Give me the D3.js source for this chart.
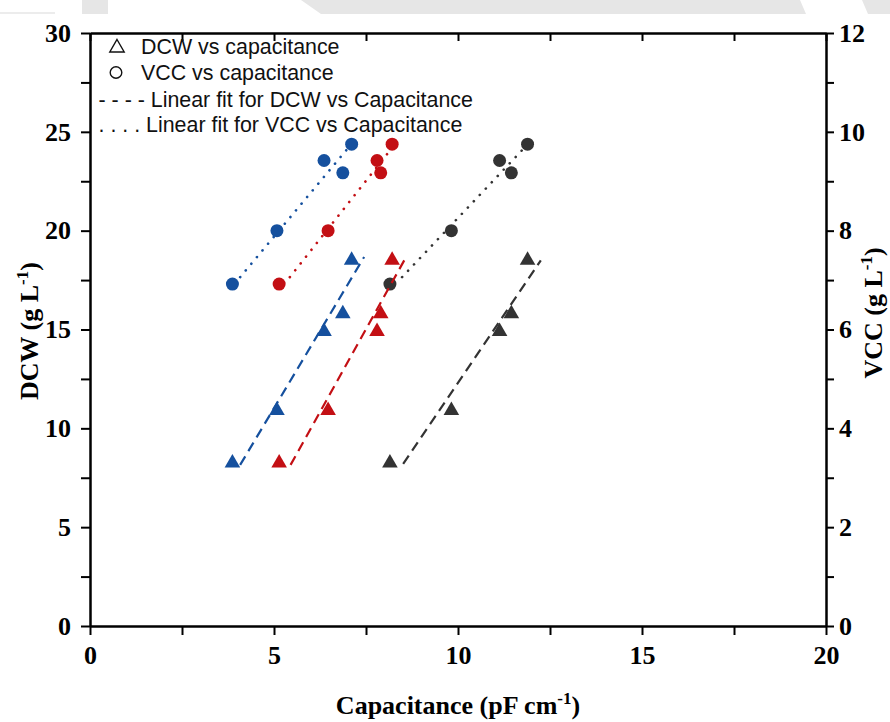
<!DOCTYPE html>
<html>
<head>
<meta charset="utf-8">
<script src="https://cdn.jsdelivr.net/npm/d3@7"></script>
<style>
  html, body { margin: 0; padding: 0; background: #ffffff; }
  svg { display: block; }
</style>
</head>
<body>
<svg id="chart" width="890" height="722"></svg>
<script>
// ---------------- data ----------------
const dcwValues = [8.35, 11.0, 15.0, 15.9, 18.6];        // g L-1 (left axis)
const vccValues = [6.92, 8.0, 9.42, 9.17, 9.75];         // g L-1 (right axis)
const capBlue  = [3.87, 5.08, 6.36, 6.87, 7.11];         // pF cm-1
const capRed   = [5.14, 6.47, 7.80, 7.90, 8.21];
const capBlack = [8.15, 9.82, 11.13, 11.45, 11.89];

// linear fit segments (endpoints)
const dcwFitBlueX  = [4.08, 7.45],  dcwFitBlueY  = [8.15, 18.67];
const dcwFitRedX   = [5.45, 8.59],  dcwFitRedY   = [8.15, 18.67];
const dcwFitBlackX = [8.51, 12.25], dcwFitBlackY = [8.2, 18.5];
const vccFitBlueX  = [4.08, 7.01],  vccFitBlueY  = [7.06, 9.67];
const vccFitRedX   = [5.43, 8.18],  vccFitRedY   = [7.06, 9.65];
const vccFitBlackX = [8.48, 11.82], vccFitBlackY = [7.06, 9.69];

const xTicks = [0, 2.5, 5, 7.5, 10, 12.5, 15, 17.5, 20];
const yLeftTicks = [0, 2.5, 5, 7.5, 10, 12.5, 15, 17.5, 20, 22.5, 25, 27.5, 30];
const yRightTicks = [0, 1, 2, 3, 4, 5, 6, 7, 8, 9, 10, 11, 12];

const legendLabels = [
  "DCW vs capacitance",
  "VCC vs capacitance",
  "- - - - Linear fit for DCW vs Capacitance",
  ". . . . Linear fit for VCC vs Capacitance"
];

const colors = { blue: "#15509e", red: "#c30f14", black: "#333333" };

// ---------------- drawing ----------------
const svg = d3.select("#chart");
const pLeft = 90, pRight = 826, pTop = 33, pBottom = 626;

const x = d3.scaleLinear().domain([0, 20]).range([pLeft, pRight]);
const yL = d3.scaleLinear().domain([0, 30]).range([pBottom, pTop]);
const yR = d3.scaleLinear().domain([0, 12]).range([pBottom, pTop]);

// light grey strip at top of the page (scan artefact)
const strip = svg.append("g").attr("fill", "#e6e6e6");
strip.append("rect").attr("x", 82).attr("y", 0).attr("width", 26).attr("height", 14);
strip.append("path").attr("d", "M301,0 L800,0 L806,14 L321,14 Z");
strip.append("path").attr("d", "M862,0 L890,0 L890,14 L868,14 Z");
strip.append("rect").attr("x", 0).attr("y", 12).attr("width", 55).attr("height", 2).attr("fill", "#ececec");

const serif = "'Liberation Serif', 'Times New Roman', serif";
const sans = "'Liberation Sans', Arial, sans-serif";

function styleAxis(g) {
  g.select(".domain").attr("stroke", "#000").attr("stroke-width", 2.5);
  g.selectAll(".tick line").attr("stroke", "#000").attr("stroke-width", 2);
  g.selectAll(".tick text")
    .attr("fill", "#000")
    .style("font-family", serif)
    .style("font-weight", "bold")
    .style("font-size", "26px");
}

const fmt5 = d => (d % 5 === 0 ? d3.format("d")(d) : "");
const fmt2 = d => (d % 2 === 0 ? d3.format("d")(d) : "");

svg.append("g").attr("transform", `translate(0,${pBottom})`)
  .call(d3.axisBottom(x).tickValues(xTicks).tickFormat(fmt5).tickSize(9).tickSizeOuter(0).tickPadding(11))
  .call(styleAxis);

svg.append("g").attr("transform", `translate(0,${pTop})`)
  .call(d3.axisTop(x).tickValues(xTicks).tickFormat("").tickSize(-8).tickSizeOuter(0))
  .call(styleAxis);

svg.append("g").attr("transform", `translate(${pLeft},0)`)
  .call(d3.axisLeft(yL).tickValues(yLeftTicks).tickFormat(fmt5).tickSize(9).tickSizeOuter(0).tickPadding(10))
  .call(styleAxis);

svg.append("g").attr("transform", `translate(${pRight},0)`)
  .call(d3.axisRight(yR).tickValues(yRightTicks).tickFormat(fmt2).tickSize(8).tickSizeOuter(0).tickPadding(5))
  .call(styleAxis);

// axis titles
function titleWithSup(g, main, sup, close) {
  const t = g.append("text")
    .attr("text-anchor", "middle")
    .attr("fill", "#000")
    .style("font-family", serif)
    .style("font-weight", "bold")
    .style("font-size", "26px");
  t.append("tspan").text(main);
  t.append("tspan").text(sup).attr("dy", -10).style("font-size", "17px");
  t.append("tspan").text(close).attr("dy", 10);
  return t;
}
titleWithSup(svg.append("g").attr("transform", "translate(458,714)"), "Capacitance (pF cm", "-1", ")");
titleWithSup(svg.append("g").attr("transform", "translate(38,331) rotate(-90)"), "DCW (g L", "-1", ")");
titleWithSup(svg.append("g").attr("transform", "translate(882,313) rotate(-90)"), "VCC (g L", "-1", ")");

// markers
const series = [
  { cap: capBlue, color: colors.blue },
  { cap: capRed, color: colors.red },
  { cap: capBlack, color: colors.black }
];
const tri = "M0,-7 L7.8,6.5 L-7.8,6.5 Z";

series.forEach(s => {
  const g = svg.append("g");
  g.selectAll("path.tri").data(s.cap.map((c, i) => [c, dcwValues[i]]))
    .join("path").attr("class", "tri")
    .attr("d", tri)
    .attr("transform", d => `translate(${x(d[0])},${yL(d[1])})`)
    .attr("fill", s.color);
  g.selectAll("circle").data(s.cap.map((c, i) => [c, vccValues[i]]))
    .join("circle")
    .attr("cx", d => x(d[0])).attr("cy", d => yR(d[1])).attr("r", 6.5)
    .attr("fill", s.color);
});

// fit lines
const fits = [
  { xs: dcwFitBlueX, ys: dcwFitBlueY, sc: yL, color: colors.blue, dash: true },
  { xs: dcwFitRedX, ys: dcwFitRedY, sc: yL, color: colors.red, dash: true },
  { xs: dcwFitBlackX, ys: dcwFitBlackY, sc: yL, color: colors.black, dash: true },
  { xs: vccFitBlueX, ys: vccFitBlueY, sc: yR, color: colors.blue, dash: false },
  { xs: vccFitRedX, ys: vccFitRedY, sc: yR, color: colors.red, dash: false },
  { xs: vccFitBlackX, ys: vccFitBlackY, sc: yR, color: colors.black, dash: false }
];
fits.forEach(f => {
  const line = d3.line().x(d => x(d[0])).y(d => f.sc(d[1]));
  svg.append("path")
    .datum(f.xs.map((v, i) => [v, f.ys[i]]))
    .attr("d", line)
    .attr("fill", "none")
    .attr("stroke", f.color)
    .attr("stroke-width", f.dash ? 2.2 : 2.6)
    .attr("stroke-linecap", f.dash ? "butt" : "round")
    .attr("stroke-dasharray", f.dash ? "10,6" : "0.1,8.6");
});

// legend
const lg = svg.append("g").style("font-family", sans).style("font-size", "21.4px").attr("fill", "#111");
lg.append("path").attr("d", "M0,-6.5 L7.2,6 L-7.2,6 Z").attr("transform", "translate(117,46)")
  .attr("fill", "none").attr("stroke", "#111").attr("stroke-width", 1.4);
lg.append("circle").attr("cx", 116).attr("cy", 72.5).attr("r", 5.8)
  .attr("fill", "none").attr("stroke", "#111").attr("stroke-width", 1.4);
const lgX = [141, 141, 98.5, 98.5];
const lgY = [53.5, 79.5, 106.5, 132];
legendLabels.forEach((t, i) => {
  lg.append("text").attr("x", lgX[i]).attr("y", lgY[i]).style("white-space", "pre").text(t);
});
</script>
</body>
</html>
